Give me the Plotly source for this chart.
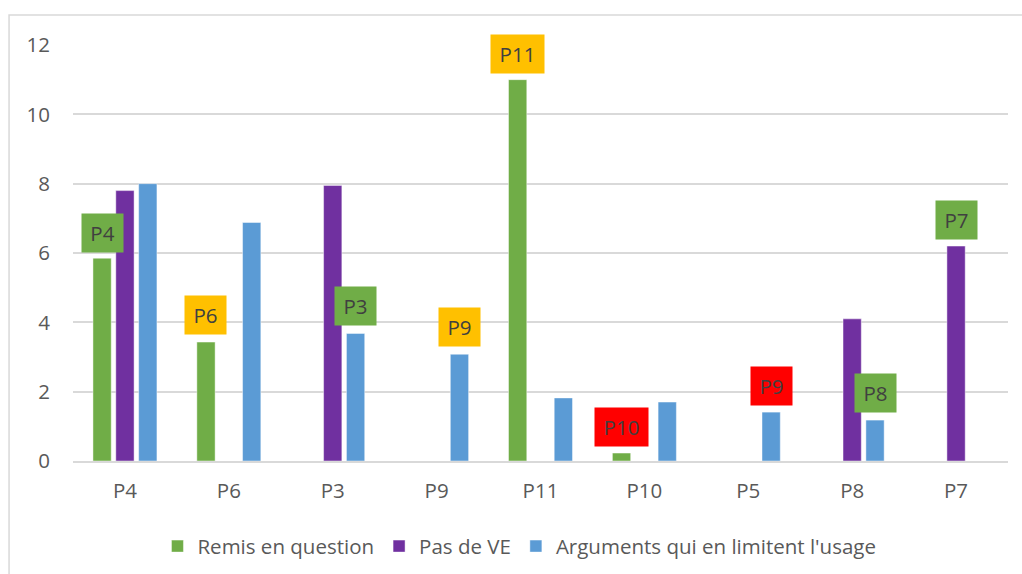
import plotly.graph_objects as go

categories = ["P4", "P6", "P3", "P9", "P11", "P10", "P5", "P8", "P7"]
remis = [5.85, 3.43, 0, 0, 11.0, 0.23, 0, 0, 0]
pas_ve = [7.8, 0, 7.95, 0, 0, 0, 0, 4.1, 6.2]
arguments = [8.0, 6.88, 3.68, 3.08, 1.82, 1.7, 1.41, 1.18, 0]

series_names = ["Remis en question", "Pas de VE", "Arguments qui en limitent l'usage"]
series_colors = ["#70AD47", "#7030A0", "#5B9BD5"]

# label boxes: (text, category, series index, y centre, box colour)
label_text = ["P4", "P6", "P3", "P9", "P11", "P10", "P9", "P8", "P7"]
label_cat = ["P4", "P6", "P3", "P9", "P11", "P10", "P5", "P8", "P7"]
label_series = [0, 0, 2, 2, 0, 0, 2, 2, 1]
label_y = [6.59, 4.2, 4.46, 3.86, 11.74, 0.98, 2.16, 1.96, 6.96]
label_color = ["#70AD47", "#FFC000", "#70AD47", "#FFC000", "#FFC000", "#FF0000", "#FF0000", "#70AD47", "#70AD47"]

FONT = "Open Sans"
FS = 20.5
BARGAP = 0.34
BARGROUPGAP = 0.2

fig = go.Figure()
for name, vals, col in zip(series_names, [remis, pas_ve, arguments], series_colors):
    fig.add_trace(go.Bar(
        x=categories, y=vals, name=name,
        marker=dict(color=col, line=dict(color="rgba(255,255,255,0.45)", width=1)),
    ))

slot = (1 - BARGAP) / 3
for t, c, s, y, bc in zip(label_text, label_cat, label_series, label_y, label_color):
    xi = categories.index(c) + (s - 1) * slot
    fig.add_annotation(
        x=xi, y=y, xref="x", yref="y", text=t, showarrow=False,
        bgcolor=bc, width=33 if len(t) == 2 else 45, height=30, borderpad=4,
        font=dict(family=FONT, size=FS, color="#404040"),
        xanchor="center", yanchor="middle",
    )

# outer chart border
fig.add_shape(type="rect", xref="paper", yref="paper",
              x0=-0.0684, x1=1.03, y0=-0.3, y1=1.0721,
              line=dict(color="#D9D9D9", width=1.5), fillcolor="rgba(0,0,0,0)", layer="below")

fig.update_layout(
    width=1022, height=574,
    margin=dict(l=73, r=14, t=45, b=113, autoexpand=False),
    paper_bgcolor="white", plot_bgcolor="white",
    barmode="group", bargap=BARGAP, bargroupgap=BARGROUPGAP,
    font=dict(family=FONT, size=FS, color="#595959"),
    showlegend=True,
    legend=dict(orientation="h", x=0.4775, xanchor="center", y=-0.205, yanchor="middle",
                font=dict(family=FONT, size=FS, color="#595959"), traceorder="normal"),
)
fig.update_xaxes(showgrid=False, showline=True, linecolor="#D9D9D9", linewidth=1.5,
                 ticks="", ticklabelstandoff=11, tickfont=dict(size=FS))
fig.update_yaxes(range=[0, 12], dtick=2, showgrid=True, gridcolor="#D9D9D9", gridwidth=1.5,
                 zeroline=False, showline=False, ticks="", ticklabelstandoff=22,
                 tickfont=dict(size=FS))

fig.write_html("out.html", config={"displayModeBar": False},
               post_script="document.body.style.margin='0';")
